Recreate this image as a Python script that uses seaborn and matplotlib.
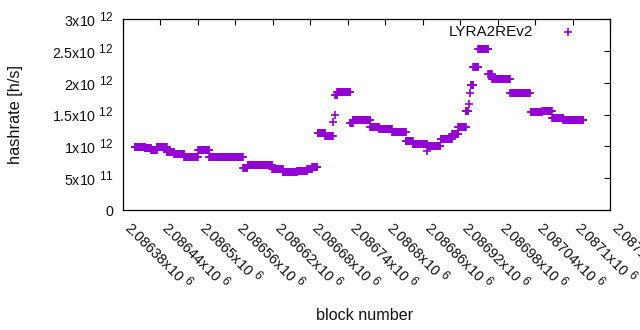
import numpy as np
import pandas as pd
import matplotlib
matplotlib.use("Agg")
import matplotlib.pyplot as plt
import matplotlib._mathtext as mathtext_mod
import seaborn as sns

# plateaus of the hashrate estimate: first block, last block, hashrate (x10^12 h/s)
seg_start = [2086399, 2086415, 2086425, 2086434, 2086450, 2086462, 2086478, 2086500,
             2086518, 2086572, 2086580, 2086619, 2086636, 2086659, 2086675, 2086683,
             2086692, 2086704, 2086720, 2086723, 2086744, 2086748, 2086776, 2086790,
             2086811, 2086833, 2086844, 2086868, 2086889, 2086907, 2086917, 2086929,
             2086937, 2086941, 2086949, 2086965, 2086971, 2087000, 2087033, 2087051,
             2087067, 2087085]
seg_end = [2086415, 2086425, 2086434, 2086450, 2086462, 2086478, 2086500, 2086518,
           2086572, 2086579, 2086619, 2086636, 2086659, 2086675, 2086683, 2086691,
           2086704, 2086716, 2086723, 2086744, 2086748, 2086776, 2086790, 2086811,
           2086833, 2086844, 2086867, 2086888, 2086907, 2086917, 2086929, 2086933,
           2086941, 2086949, 2086965, 2086971, 2087000, 2087032, 2087051, 2087067,
           2087085, 2087117]
seg_value = [0.99, 0.97, 0.945, 0.99, 0.915, 0.88, 0.83, 0.94,
             0.84, 0.66, 0.71, 0.65, 0.59, 0.62, 0.64, 0.68,
             1.21, 1.17, 1.81, 1.85, 1.36, 1.41, 1.30, 1.27,
             1.23, 1.09, 1.03, 1.01, 1.11, 1.19, 1.30, 1.55,
             1.97, 2.25, 2.53, 2.14, 2.05, 1.84, 1.54, 1.56,
             1.45, 1.42]

# isolated blocks in the transitions
single_block = [2086716, 2086719, 2086867, 2086934, 2086936]
single_value = [1.39, 1.50, 0.93, 1.66, 1.84]

xtick_values = [2086380, 2086440, 2086500, 2086560, 2086620, 2086680, 2086740,
                2086800, 2086860, 2086920, 2086980, 2087040, 2087100, 2087160]
xtick_labels = ["2.08638x10 $^{6}$", "2.08644x10 $^{6}$", "2.0865x10 $^{6}$",
                "2.08656x10 $^{6}$", "2.08662x10 $^{6}$", "2.08668x10 $^{6}$",
                "2.08674x10 $^{6}$", "2.0868x10 $^{6}$", "2.08686x10 $^{6}$",
                "2.08692x10 $^{6}$", "2.08698x10 $^{6}$", "2.08704x10 $^{6}$",
                "2.0871x10 $^{6}$", "2.08716x10 $^{6}$"]
ytick_values = [0, 5e11, 1e12, 1.5e12, 2e12, 2.5e12, 3e12]
ytick_labels = ["0", "5x10 $^{11}$", "1x10 $^{12}$", "1.5x10 $^{12}$",
                "2x10 $^{12}$", "2.5x10 $^{12}$", "3x10 $^{12}$"]

blocks = []
rates = []
for s, e, v in zip(seg_start, seg_end, seg_value):
    b = np.arange(s, e + 1)
    blocks.extend(b)
    rates.extend([v * 1e12] * len(b))
blocks.extend(single_block)
rates.extend([v * 1e12 for v in single_value])
df = pd.DataFrame({"block": blocks, "hashrate": rates})

sns.set_style("white")
plt.rcParams["font.family"] = ["Liberation Sans", "DejaVu Sans"]
plt.rcParams["mathtext.fontset"] = "custom"
plt.rcParams["mathtext.rm"] = "Liberation Sans"
plt.rcParams["mathtext.it"] = "Liberation Sans:italic"
plt.rcParams["mathtext.bf"] = "Liberation Sans:bold"
mathtext_mod.SHRINK_FACTOR = 0.82  # gnuplot superscripts are not shrunk as much

fig = plt.figure(figsize=(6.4, 3.3), dpi=100)
ax = fig.add_axes([123 / 640, 1 - 210 / 330, 487 / 640, 191 / 330])

sns.scatterplot(
    ax=ax,
    data=df,
    x="block",
    y="hashrate",
    marker="+",
    s=30,
    color="#9400D3",
    linewidth=1.2,
    label="LYRA2REv2",
)

ax.set_xlim(2086380, 2087160)
ax.set_ylim(0, 3e12)
ax.set_xticks(xtick_values)
ax.set_xticklabels(xtick_labels, rotation=-45, ha="left", va="baseline",
                   rotation_mode="anchor", fontsize=10.4)
ax.set_yticks(ytick_values)
ax.set_yticklabels(ytick_labels, fontsize=10.3)
ax.tick_params(direction="in", length=4, width=0.8, top=True, right=True,
               color="black", labelcolor="#111111")
ax.tick_params(axis="x", pad=13.5)
ax.tick_params(axis="y", pad=7)
for sp in ax.spines.values():
    sp.set_color("black")
    sp.set_linewidth(0.9)

ax.set_xlabel("block number", fontsize=11.6, color="#111111")
ax.set_ylabel("hashrate [h/s]", fontsize=11.8, color="#111111")
ax.xaxis.set_label_coords(0.497, -0.515)
ax.yaxis.set_label_coords(-0.206, 0.5)

ax.legend(
    loc="upper right",
    bbox_to_anchor=(0.954, 0.968),
    frameon=False,
    markerfirst=False,
    fontsize=11,
    handlelength=2.6,
    handletextpad=0.96,
    borderaxespad=0,
    borderpad=0,
    labelcolor="#111111",
)

fig.savefig("out.png", dpi=100)
plt.close(fig)
